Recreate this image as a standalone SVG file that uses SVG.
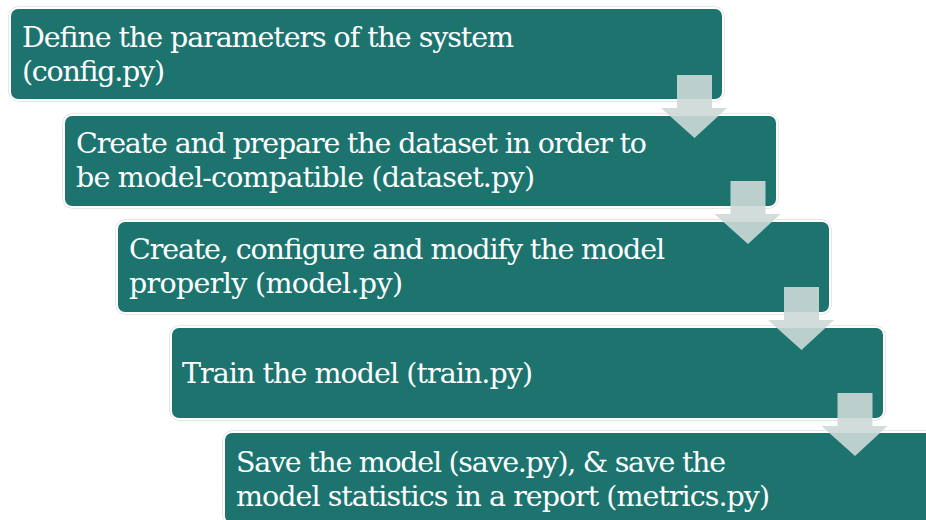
<svg xmlns="http://www.w3.org/2000/svg" width="926" height="520" viewBox="0 0 926 520">
  <defs>
    <style>
      .box { fill: #1d746f; stroke: #ffffff; stroke-width: 2; }
      .edge { fill: none; stroke: #cfcfcf; stroke-width: 1; }
      .lbl { font-family: "DejaVu Serif", "Liberation Serif", serif; font-size: 28.5px; fill: #ffffff; }
      .arrow { fill: #cdd9d7; fill-opacity: 0.9; }
    </style>
  </defs>
  <rect width="926" height="520" fill="#ffffff"/>

  <g id="step1">
    <rect class="edge" x="9" y="7" width="715" height="94" rx="9"/>
    <rect class="box" x="10" y="8" width="713" height="92" rx="8"/>
    <text class="lbl" x="22" y="47" textLength="492" lengthAdjust="spacing">Define the parameters of the system</text>
    <text class="lbl" x="22" y="81" textLength="143" lengthAdjust="spacing">(config.py)</text>
  </g>
  <g id="step2">
    <rect class="edge" x="63" y="114" width="715" height="94" rx="9"/>
    <rect class="box" x="64" y="115" width="713" height="92" rx="8"/>
    <text class="lbl" x="76" y="153" textLength="571" lengthAdjust="spacing">Create and prepare the dataset in order to</text>
    <text class="lbl" x="76" y="187" textLength="459" lengthAdjust="spacing">be model-compatible (dataset.py)</text>
  </g>
  <g id="step3">
    <rect class="edge" x="116" y="220" width="715" height="94" rx="9"/>
    <rect class="box" x="117" y="221" width="713" height="92" rx="8"/>
    <text class="lbl" x="129" y="259" textLength="536" lengthAdjust="spacing">Create, configure and modify the model</text>
    <text class="lbl" x="129" y="293" textLength="274" lengthAdjust="spacing">properly (model.py)</text>
  </g>
  <g id="step4">
    <rect class="edge" x="170" y="326" width="715" height="94" rx="9"/>
    <rect class="box" x="171" y="327" width="713" height="92" rx="8"/>
    <text class="lbl" x="182" y="383" textLength="351" lengthAdjust="spacing">Train the model (train.py)</text>
  </g>
  <g id="step5">
    <rect class="edge" x="223" y="431" width="715" height="94" rx="9"/>
    <rect class="box" x="224" y="432" width="713" height="92" rx="8"/>
    <text class="lbl" x="236" y="472" textLength="490" lengthAdjust="spacing">Save the model (save.py), &amp; save the</text>
    <text class="lbl" x="236" y="506" textLength="534" lengthAdjust="spacing">model statistics in a report (metrics.py)</text>
  </g>

  <g id="connectors">
    <polygon class="arrow" points="677,75 712,75 712,108 727,108 694.5,138 661,108 677,108"/>
    <polygon class="arrow" points="730.5,181 765.5,181 765.5,214 780.5,214 748,244 714.5,214 730.5,214"/>
    <polygon class="arrow" points="784,287 819,287 819,320 834,320 801.5,350 768,320 784,320"/>
    <polygon class="arrow" points="837.5,393 872.5,393 872.5,426 887.5,426 855,456 821.5,426 837.5,426"/>
  </g>
</svg>
